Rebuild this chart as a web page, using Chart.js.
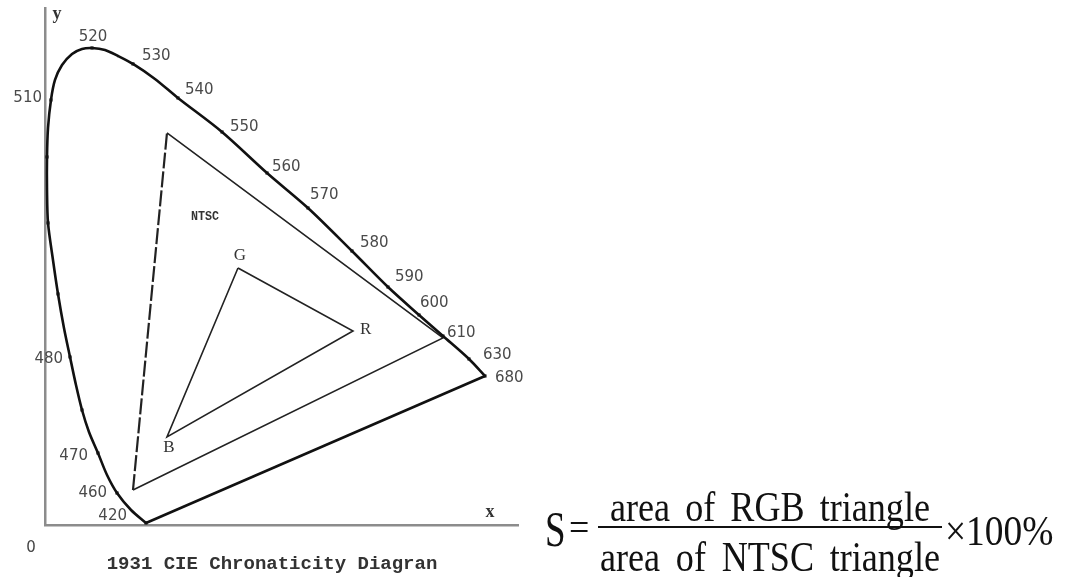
<!DOCTYPE html>
<html><head><meta charset="utf-8">
<script src="https://cdn.jsdelivr.net/npm/chart.js@4"></script>
<style>html,body{margin:0;padding:0;background:#fff;overflow:hidden}canvas{display:block}</style>
</head><body>
<canvas id="c" width="1065" height="577"></canvas>
<script>
// Spectral locus (chromaticity x, y), from 420 nm round to 680 nm
const locusX = [0.1708,0.1455,0.1218,0.1049,0.0896,0.0744,0.0626,0.0524,0.0423,0.0321,0.0220,0.0135,0.0051,0.0034,0.0034,0.0051,0.0101,0.0169,0.0288,0.0457,0.0626,0.0795,0.1015,0.1235,0.1488,0.1860,0.2249,0.2994,0.3755,0.4448,0.5192,0.5801,0.6326,0.6731,0.7171,0.7442];
const locusY = [0.0035,0.0261,0.0557,0.0870,0.1253,0.1619,0.2002,0.2437,0.2925,0.3430,0.4022,0.4614,0.5258,0.5832,0.6407,0.6912,0.7399,0.7747,0.8008,0.8200,0.8287,0.8304,0.8270,0.8165,0.8026,0.7765,0.7434,0.6842,0.6128,0.5519,0.4770,0.4143,0.3656,0.3290,0.2890,0.2594];

// Labelled wavelength marks
const wavelengths = [420,460,470,480,510,520,530,540,550,560,570,580,590,600,610,630,680];
const markX = [0.1708,0.1218,0.0896,0.0423,0.0101,0.0795,0.1488,0.2249,0.2994,0.3755,0.4448,0.5192,0.5801,0.6326,0.6731,0.7171,0.7442];
const markY = [0.0035,0.0557,0.1253,0.2925,0.7399,0.8304,0.8026,0.7434,0.6842,0.6128,0.5519,0.4770,0.4143,0.3656,0.3290,0.2890,0.2594];
// Unlabelled marks
const dotX = [0.0034,0.0051,0.0220,0.0626];
const dotY = [0.6407,0.5258,0.4022,0.2002];

// Purple line 420 -> 680
const purpleX = [0.1708,0.7442];
const purpleY = [0.0035,0.2594];

// NTSC triangle (G, R, B)
const ntscX = [0.2063,0.6731,0.1488];
const ntscY = [0.6825,0.3256,0.0609];
// RGB triangle (G, R, B)
const rgbNames = ['G','R','B'];
const rgbX = [0.3264,0.5209,0.2063];
const rgbY = [0.4474,0.3377,0.1532];

// Formula text
const numWords = ['area','of','RGB','triangle'];
const denWords = ['area','of','NTSC','triangle'];

const pts = (xs, ys) => xs.map((x, i) => ({x, y: ys[i]}));
const closed = (xs, ys) => { const p = pts(xs, ys); p.push(p[0]); return p; };

// label placement (pixel offsets from the mark)
const labelOffset = {
  420:[-19,-7,'right'],460:[-10,0,'right'],470:[-10,3,'right'],480:[-7,2,'right'],510:[-9,-2,'right'],
  520:[1,-11,'center'],530:[9,-8,'left'],540:[7,-8,'left'],550:[8,-5,'left'],560:[5,-6,'left'],
  570:[2,-13,'left'],580:[8,-8,'left'],590:[7,-10,'left'],600:[1,-12,'left'],610:[4,-3,'left'],
  630:[14,-4,'left'],680:[10,2,'left']
};
const rgbLabelOffset = [[2,-12,'center'],[7,-1,'left'],[2,11,'center']];
const ntscLabelAt = {x:0.2706, y:0.5362};

function txt(ctx, s, x, y, font, color, align, base, sx) {
  ctx.save();
  ctx.font = font; ctx.fillStyle = color;
  ctx.textAlign = align || 'left'; ctx.textBaseline = base || 'middle';
  ctx.translate(x, y); ctx.scale(sx || 1, 1);
  ctx.fillText(s, 0, 0);
  ctx.restore();
}
function justified(ctx, words, x0, x1, y, font, color, sx) {
  ctx.save(); ctx.font = font;
  const ws = words.map(w => ctx.measureText(w).width * sx);
  ctx.restore();
  const gap = (x1 - x0 - ws.reduce((s, v) => s + v, 0)) / (words.length - 1);
  let x = x0;
  words.forEach((w, i) => { txt(ctx, w, x, y, font, color, 'left', 'alphabetic', sx); x += ws[i] + gap; });
}

const annot = {
  id: 'annot',
  afterDatasetsDraw(chart) {
    const ctx = chart.ctx, xs = chart.scales.x, ys = chart.scales.y, a = chart.chartArea;
    const lblFont = '15px "DejaVu Sans"', lblCol = '#4a4a4a';
    wavelengths.forEach((w, i) => {
      const o = labelOffset[w];
      txt(ctx, String(w), xs.getPixelForValue(markX[i]) + o[0], ys.getPixelForValue(markY[i]) + o[1], lblFont, lblCol, o[2]);
    });
    rgbNames.forEach((n, i) => {
      const o = rgbLabelOffset[i];
      txt(ctx, n, xs.getPixelForValue(rgbX[i]) + o[0], ys.getPixelForValue(rgbY[i]) + o[1], '17px "Liberation Serif"', '#333', o[2]);
    });
    txt(ctx, 'NTSC', xs.getPixelForValue(ntscLabelAt.x), ys.getPixelForValue(ntscLabelAt.y), 'bold 13px "Liberation Mono"', '#333', 'center', 'middle', 0.9);
    txt(ctx, 'y', a.left + 12, a.top + 6, 'bold 18px "Liberation Serif"', '#333', 'center');
    txt(ctx, 'x', a.right - 28, a.bottom - 13, 'bold 18px "Liberation Serif"', '#333', 'center');
    txt(ctx, '0', a.left - 14, a.bottom + 23, '15px "DejaVu Sans"', '#444', 'center');
    txt(ctx, '1931 CIE Chronaticity Diagran', a.left + 227, a.bottom + 39, 'bold 19px "Liberation Mono"', '#333', 'center', 'middle', 1.0);

    // Formula
    const F = '43px "Liberation Serif"', col = '#111', sx = 0.84;
    txt(ctx, 'S', 545, 546, '50px "Liberation Serif"', col, 'left', 'alphabetic', 0.74);
    txt(ctx, '=', 569, 541, '40px "Liberation Serif"', col, 'left', 'alphabetic', 0.9);
    justified(ctx, numWords, 610, 930, 521, F, col, sx);
    justified(ctx, denWords, 600, 940, 571, F, col, sx);
    ctx.save(); ctx.strokeStyle = col; ctx.lineWidth = 2;
    ctx.beginPath(); ctx.moveTo(598, 527); ctx.lineTo(942, 527); ctx.stroke(); ctx.restore();
    txt(ctx, '\u00d7100%', 945, 545, F, col, 'left', 'alphabetic', 0.87);
  }
};

new Chart(document.getElementById('c'), {
  type: 'scatter',
  data: {
    datasets: [
      { data: pts(locusX, locusY), showLine: true, borderColor: '#111', borderWidth: 2.6, pointRadius: 0, tension: 0.3, clip: false },
      { data: pts(purpleX, purpleY), showLine: true, borderColor: '#111', borderWidth: 2.6, pointRadius: 0, clip: false },
      { data: closed(ntscX, ntscY), showLine: true, borderColor: '#222', borderWidth: 1.6, pointRadius: 0, clip: false,
        segment: { borderDash: c => c.p0DataIndex === 2 ? [16, 3] : undefined, borderWidth: c => c.p0DataIndex === 2 ? 2.2 : 1.6 } },
      { data: closed(rgbX, rgbY), showLine: true, borderColor: '#222', borderWidth: 1.6, pointRadius: 0, clip: false },
      { data: pts(markX, markY), showLine: false, pointStyle: 'rect', pointRadius: 2.2, backgroundColor: '#111', borderColor: '#111', borderWidth: 0, clip: false },
      { data: pts(dotX, dotY), showLine: false, pointStyle: 'rect', pointRadius: 2.2, backgroundColor: '#111', borderColor: '#111', borderWidth: 0, clip: false }
    ]
  },
  options: {
    responsive: false, animation: false,
    layout: { padding: { left: 45, right: 547, top: 8, bottom: 52 } },
    plugins: { legend: { display: false }, tooltip: { enabled: false } },
    scales: {
      x: { type: 'linear', min: 0, max: 0.8, grid: { display: false, drawTicks: false }, ticks: { display: false },
           border: { display: true, color: '#8c8c8c', width: 2.5 } },
      y: { type: 'linear', min: 0, max: 0.9, grid: { display: false, drawTicks: false }, ticks: { display: false },
           border: { display: true, color: '#8c8c8c', width: 2.5 } }
    }
  },
  plugins: [annot]
});
</script>
</body></html>
